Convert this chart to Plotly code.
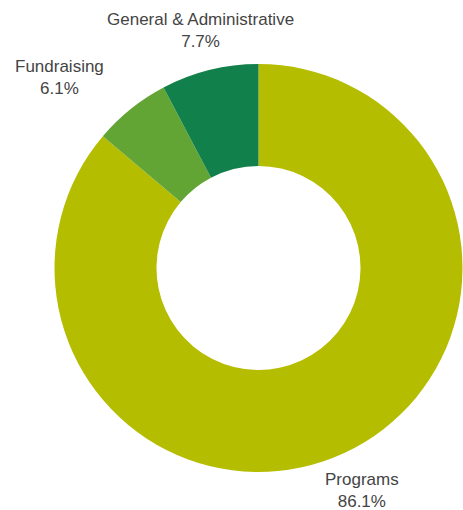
import plotly.graph_objects as go

CATEGORIES = ["Programs", "Fundraising", "General & Administrative"]
PERCENTS = [86.1, 6.1, 7.7]
COLORS = ["#B5BD00", "#62A535", "#12804A"]

W, H = 463, 510
# label centres in pixels (x from left, y from top)
LABEL_POS = [(362, 490), (59, 77), (200, 30)]

fig = go.Figure(
    go.Pie(
        labels=CATEGORIES,
        values=PERCENTS,
        hole=0.5,
        sort=False,
        direction="clockwise",
        rotation=0,
        marker=dict(colors=COLORS, line=dict(width=0)),
        textinfo="none",
        hoverinfo="label+percent",
        showlegend=False,
        domain=dict(x=[54 / W, 1.0], y=[(H - 472) / H, (H - 64) / H]),
    )
)

for cat, pct, (px, py) in zip(CATEGORIES, PERCENTS, LABEL_POS):
    fig.add_annotation(
        x=px / W, y=1 - py / H, xref="paper", yref="paper",
        xanchor="center", yanchor="middle",
        text=f"{cat}<br>{pct:.1f}%",
        showarrow=False,
        font=dict(family="Liberation Sans, Arial, sans-serif", size=17, color="#444444"),
    )

fig.update_layout(
    width=W,
    height=H,
    margin=dict(l=0, r=0, t=0, b=0),
    paper_bgcolor="white",
    plot_bgcolor="white",
    font=dict(family="Liberation Sans, Arial, sans-serif", color="#444444"),
)

fig.write_html("out.html", config={"displayModeBar": False},
               post_script="document.body.style.margin='0';")
